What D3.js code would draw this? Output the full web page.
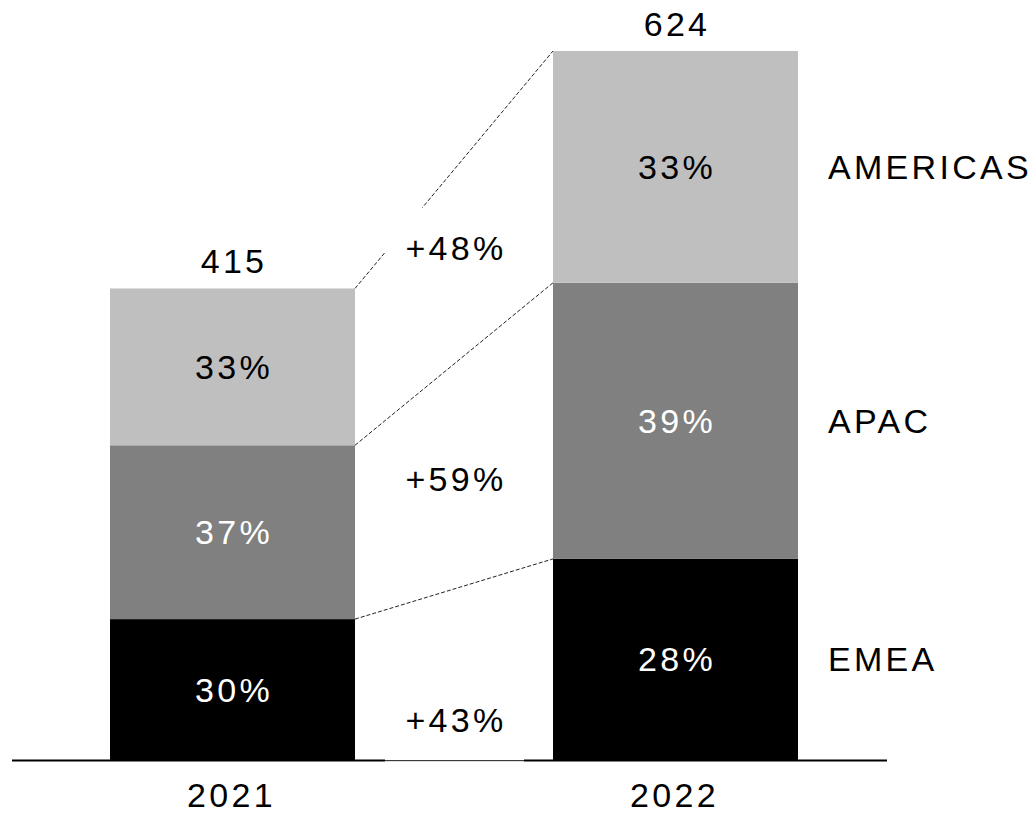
<!DOCTYPE html>
<html>
<head>
<meta charset="utf-8">
<script src="https://cdn.jsdelivr.net/npm/d3@7"></script>
<style>
  body { margin: 0; background: #fff; }
  svg text { font-family: "Liberation Sans", Arial, sans-serif; font-size: 34px; letter-spacing: 3.3px; }
</style>
</head>
<body>
<svg width="1035" height="815"></svg>
<script>
var years = ["2021", "2022"];
var regions = ["EMEA", "APAC", "AMERICAS"];
var emea = [124, 177];
var apac = [153, 243];
var americas = [138, 204];

var colors = ["#000000", "#808080", "#bfbfbf"];
var textColors = ["#fff", "#fff", "#000"];
// where the growth labels sit, in value units
var growthAt = [35, 247, 451];

var svg = d3.select("svg");

var rows = years.map(function(y, i) {
  return { year: y, EMEA: emea[i], APAC: apac[i], AMERICAS: americas[i] };
});
var totals = rows.map(function(r) { return r.EMEA + r.APAC + r.AMERICAS; });

var x = d3.scaleBand()
    .domain(years)
    .range([110, 798])
    .paddingInner(198 / 443)
    .paddingOuter(0);

var y = d3.scaleLinear()
    .domain([0, d3.max(totals)])
    .range([760, 51]);

var series = d3.stack().keys(regions)(rows);

// dashed connectors between bar tops
series.forEach(function(s) {
  svg.append("line")
      .attr("x1", x(years[0]) + x.bandwidth())
      .attr("y1", y(s[0][1]))
      .attr("x2", x(years[1]))
      .attr("y2", y(s[1][1]))
      .attr("stroke", "#222")
      .attr("stroke-width", 1)
      .attr("stroke-dasharray", "4,2");
});

// baseline
svg.append("line")
    .attr("x1", 12).attr("x2", 887)
    .attr("y1", y(0) + 0.5).attr("y2", y(0) + 0.5)
    .attr("stroke", "#000").attr("stroke-width", 2);

var layer = svg.selectAll("g.layer")
  .data(series)
  .enter().append("g")
    .attr("class", "layer")
    .attr("fill", function(d, i) { return colors[i]; });

layer.selectAll("rect")
  .data(function(d) { return d; })
  .enter().append("rect")
    .attr("x", function(d) { return x(d.data.year); })
    .attr("y", function(d) { return y(d[1]); })
    .attr("width", x.bandwidth())
    .attr("height", function(d) { return y(d[0]) - y(d[1]); });

// share labels inside segments
series.forEach(function(s, k) {
  s.forEach(function(d, i) {
    svg.append("text")
        .attr("x", x(d.data.year) + x.bandwidth() / 2 + 1.5)
        .attr("y", (y(d[0]) + y(d[1])) / 2 + 12)
        .attr("text-anchor", "middle")
        .attr("fill", textColors[k])
        .text(Math.round((d[1] - d[0]) / totals[i] * 100) + "%");
  });
});

// totals above bars, years below
years.forEach(function(yr, i) {
  svg.append("text")
      .attr("x", x(yr) + x.bandwidth() / 2 + 1.5)
      .attr("y", y(totals[i]) - 15)
      .attr("text-anchor", "middle")
      .text(totals[i]);
  svg.append("text")
      .attr("x", x(yr) + x.bandwidth() / 2 - 1)
      .attr("y", 807)
      .attr("text-anchor", "middle")
      .text(yr);
});

// region names to the right of the 2022 bar
series.forEach(function(s) {
  var d = s[1];
  svg.append("text")
      .attr("x", 828)
      .attr("y", (y(d[0]) + y(d[1])) / 2 + 12)
      .text(s.key);
});

// growth labels with white boxes
var gx = (x(years[0]) + x.bandwidth() + x(years[1])) / 2 + 0.5;
series.forEach(function(s, k) {
  var cy = y(growthAt[k]);
  svg.append("rect")
      .attr("x", gx - 69.5)
      .attr("y", cy - 40)
      .attr("width", 139)
      .attr("height", 80)
      .attr("fill", "#fff");
  var g = s[1][1] - s[1][0], p = s[0][1] - s[0][0];
  svg.append("text")
      .attr("x", gx + 1.5)
      .attr("y", cy + 12)
      .attr("text-anchor", "middle")
      .text("+" + Math.round((g / p - 1) * 100) + "%");
});
svg.append("line")
    .attr("x1", gx - 69.5).attr("x2", gx + 69.5)
    .attr("y1", y(0) + 1.5).attr("y2", y(0) + 1.5)
    .attr("stroke", "#ddd").attr("stroke-width", 1);
</script>
</body>
</html>
